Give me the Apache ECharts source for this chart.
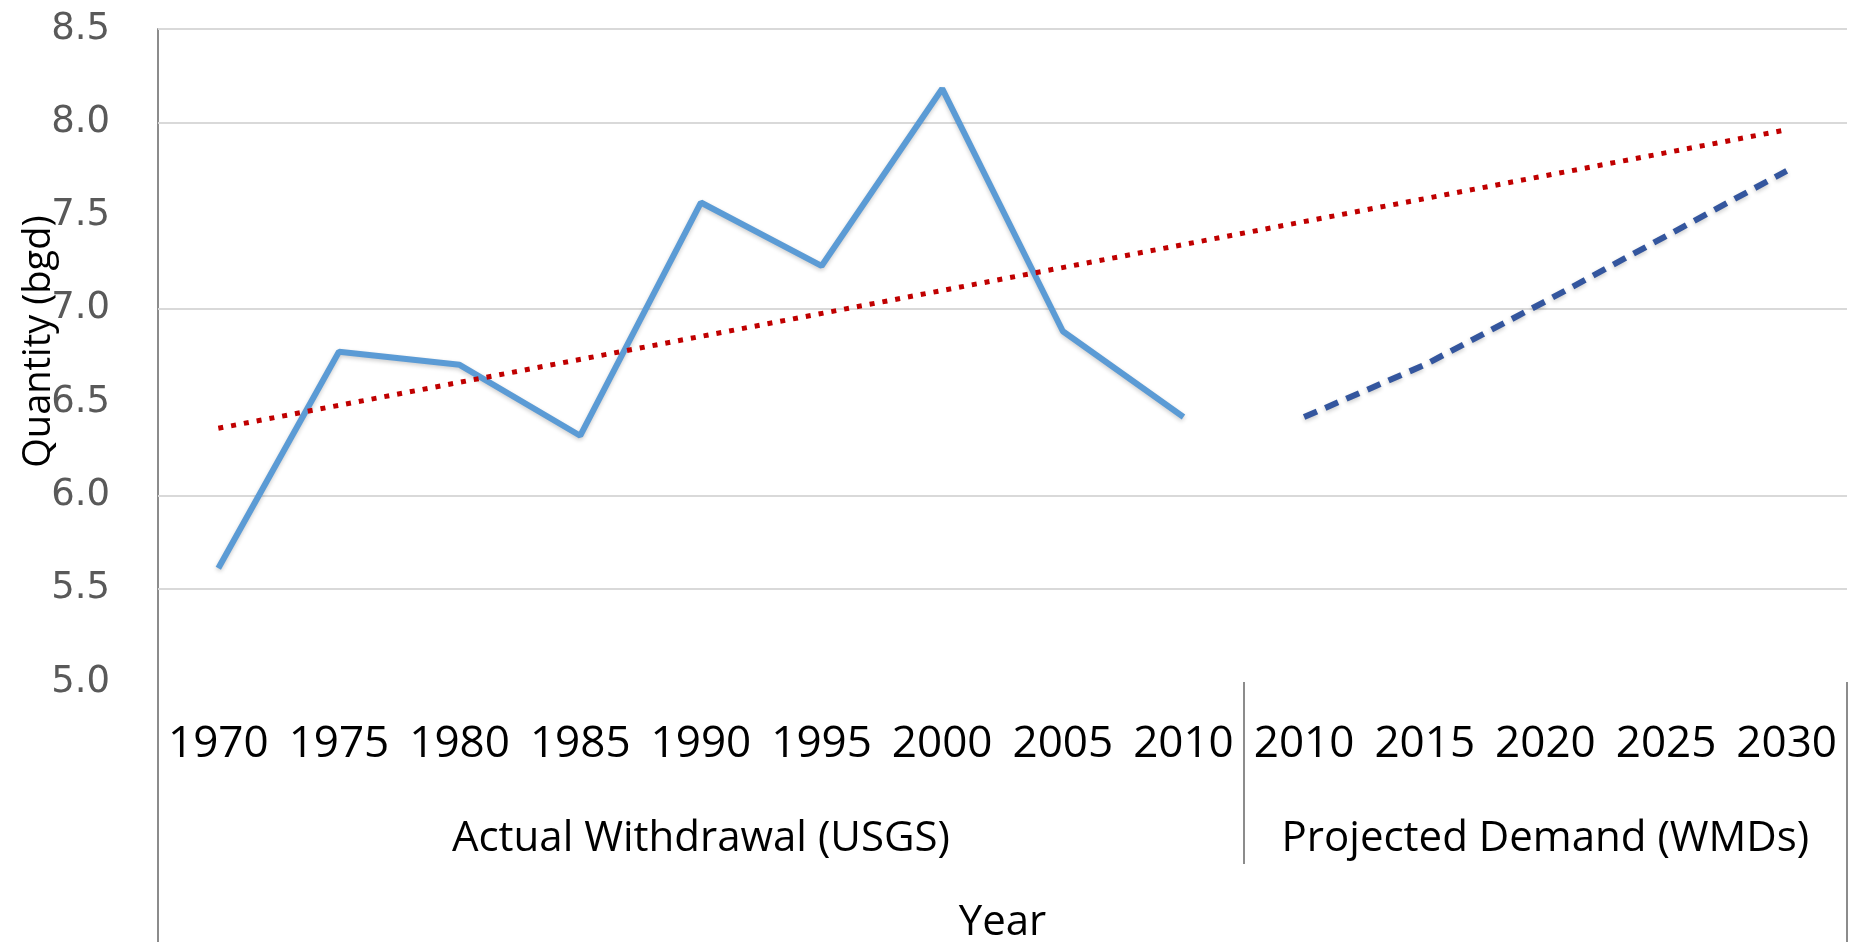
<!DOCTYPE html>
<html>
<head>
<meta charset="utf-8">
<script src="https://cdn.jsdelivr.net/npm/echarts@6/dist/echarts.min.js"></script>
<style>
  html, body { margin: 0; padding: 0; background: #fff; }
  #chart { width: 1858px; height: 942px; }
</style>
</head>
<body>
<div id="chart"></div>
<script>
// ---- data ----
const actualYears = ['1970', '1975', '1980', '1985', '1990', '1995', '2000', '2005', '2010'];
const projectedYears = ['2010', '2015', '2020', '2025', '2030'];
const actualWithdrawal = [5.61, 6.77, 6.70, 6.32, 7.57, 7.23, 8.18, 6.88, 6.42];
const projectedDemand = [6.42, 6.70, 7.04, 7.39, 7.74];
const trendStart = 6.36;   // dotted trend line value at 1970
const trendEnd = 7.96;     // dotted trend line value at 2030
const groupNames = ['Actual Withdrawal (USGS)', 'Projected Demand (WMDs)'];
const gridLineValues = [8.5, 8.0, 7.0, 6.0, 5.5];
const yTicks = { min: 5.0, max: 8.5, interval: 0.5 };

// ---- build ----
const categories = actualYears.concat(projectedYears);
const nA = actualYears.length, nP = projectedYears.length, nAll = categories.length;
const actualData = actualWithdrawal.concat(new Array(nP).fill(null));
const projData = new Array(nA).fill(null).concat(projectedDemand);
const trendData = categories.map((c, i) => i === 0 ? trendStart : (i === nAll - 1 ? trendEnd : null));

const FONT = 'Open Sans';
const chart = echarts.init(document.getElementById('chart'));
chart.setOption({
  backgroundColor: '#ffffff',
  animation: false,
  grid: { left: 158, right: 11, top: 29, bottom: 260, containLabel: false, outerBoundsMode: 'none' },
  xAxis: [
    {
      type: 'category', data: categories, position: 'bottom', boundaryGap: true,
      axisLine: { show: false }, axisTick: { show: false }, splitLine: { show: false },
      axisLabel: { interval: 0, margin: 62, verticalAlign: 'middle', color: '#000', fontFamily: FONT, fontSize: 44 }
    },
    {
      type: 'value', min: 0, max: nAll, position: 'bottom',
      axisLine: { show: false }, splitLine: { show: false },
      axisTick: { show: true, customValues: [nA], length: 182, inside: false, lineStyle: { color: '#8c8c8c', width: 2 } },
      axisLabel: {
        show: true, customValues: [nA / 2, nA + nP / 2], margin: 157, verticalAlign: 'middle',
        color: '#000', fontFamily: FONT, fontSize: 42,
        formatter: v => (v < nA ? groupNames[0] : groupNames[1])
      }
    },
    {
      type: 'value', min: 0, max: nAll, position: 'bottom',
      axisLine: { show: false }, splitLine: { show: false },
      axisTick: { show: true, customValues: [0, nAll], length: 262, inside: false, lineStyle: { color: '#8c8c8c', width: 2 } },
      axisLabel: { show: false },
      name: 'Year', nameLocation: 'middle', nameGap: 241, nameMoveOverlap: false,
      nameTextStyle: { color: '#000', fontFamily: FONT, fontSize: 42, verticalAlign: 'middle' }
    }
  ],
  yAxis: {
    type: 'value', min: yTicks.min, max: yTicks.max, interval: yTicks.interval,
    axisLine: { show: true, lineStyle: { color: '#8c8c8c', width: 2 } },
    axisTick: { show: false },
    splitLine: { show: false },
    axisLabel: { margin: 48, color: '#595959', fontFamily: 'DejaVu Sans', fontSize: 37, formatter: v => v.toFixed(1) },
    name: 'Quantity (bgd)', nameLocation: 'middle', nameGap: 100, nameMoveOverlap: false,
    nameTextStyle: { color: '#000', fontFamily: FONT, fontSize: 38, padding: [0, 0, 0, 28] }
  },
  series: [
    {
      name: 'Actual Withdrawal', type: 'line', xAxisIndex: 0, data: actualData,
      symbol: 'none', connectNulls: false, z: 3,
      lineStyle: { color: '#5b9bd5', width: 6, shadowColor: 'rgba(0,0,0,0.2)', shadowBlur: 4, shadowOffsetY: 2 },
      markLine: {
        silent: true, symbol: 'none', label: { show: false }, z: 1,
        lineStyle: { color: '#d9d9d9', width: 2, type: 'solid' },
        data: gridLineValues.map(v => ({ yAxis: v }))
      }
    },
    {
      name: 'Projected Demand', type: 'line', xAxisIndex: 0, data: projData,
      symbol: 'none', z: 3,
      lineStyle: { color: '#34569e', width: 6, type: [14, 9], shadowColor: 'rgba(0,0,0,0.2)', shadowBlur: 4, shadowOffsetY: 2 }
    },
    {
      name: 'Trend', type: 'line', xAxisIndex: 0, data: trendData,
      symbol: 'none', connectNulls: true, z: 4,
      lineStyle: { color: '#c00000', width: 5, type: [5, 8] }
    }
  ]
});
</script>
</body>
</html>
